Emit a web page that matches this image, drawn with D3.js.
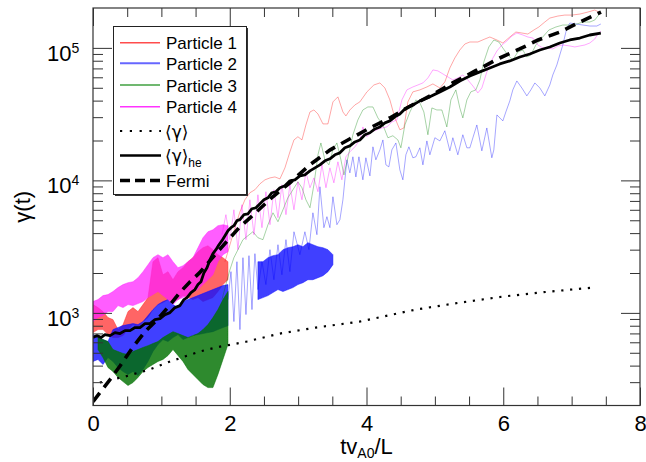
<!DOCTYPE html>
<html><head><meta charset="utf-8">
<script src="https://cdn.jsdelivr.net/npm/d3@7"></script>
<style>
body{margin:0;background:#fff;}
text{font-family:"Liberation Sans",Arial,Helvetica,sans-serif;}
</style>
</head><body>
<svg id="c" width="646" height="462"></svg>
<script>
// ---------------- DATA ----------------
const xTicksMajor = [0, 2, 4, 6, 8];
const xTicksMinor = [0.5, 1, 1.5, 2.5, 3, 3.5, 4.5, 5, 5.5, 6.5, 7, 7.5];
const yTicksMajor = [1e3, 1e4, 1e5];
const yTickExp = ["3", "4", "5"];
const yTicksMinor = [300,400,500,600,700,800,900,2000,3000,4000,5000,6000,7000,8000,9000,20000,30000,40000,50000,60000,70000,80000,90000];
const seriesNames = ["Particle 1", "Particle 2", "Particle 3", "Particle 4"];

// early, rapidly oscillating phase: envelopes
const bandT = [0,0.073,0.146,0.219,0.292,0.366,0.439,0.512,0.585,0.658,0.731,0.804,0.877,0.950,1.023,1.097,1.170,1.243,1.316,1.389,1.462,1.535,1.608,1.681,1.754,1.827,1.901,1.974];
const p1Hi = [1155,1096,1023,922,890,748,816,1023,1096,1023,1155,1304,2434,2610,1940,2048,1780,2048,2193,2434,2610,2898,3104,3214,3000,2750,2610,2434];
const p1Lo = [710,748,748,686,651,651,674,748,816,775,860,922,1059,1155,1196,1260,1217,1260,1350,1304,1260,1304,1217,1260,1304,1449,1635,1780];
const p2Hi = [686,651,629,608,748,775,802,816,830,816,860,954,1059,1155,1217,1260,1155,1096,1217,1260,1304,1350,1399,1449,1500,1552,1607,1635];
const p2Lo = [430,445,408,460,430,387,361,343,361,337,374,430,511,577,629,608,651,686,629,651,674,686,698,710,722,748,775,800];
const p2Band2T = [2.412,2.485,2.559,2.632,2.705,2.778,2.851,2.924,2.997,3.070,3.143,3.216,3.290,3.363,3.436,3.509];
const p2Band2Hi = [2434,2434,2610,2703,2750,3000,3104,3159,3270,3159,3389,3270,3159,3104,3000,2750];
const p2Band2Lo = [1260,1304,1350,1424,1500,1449,1500,1552,1635,1690,1780,1780,1841,1907,2048,2310];
const p3BandT = [0.073,0.146,0.219,0.292,0.366,0.439,0.512,0.585,0.658,0.731,0.804,0.877,0.950,1.023,1.097,1.170,1.243,1.316,1.389,1.462,1.535,1.608,1.681,1.754,1.827,1.901,1.974];
const p3Hi = [651,629,608,529,511,494,485,511,529,548,566,587,608,651,686,722,698,674,651,674,698,748,816,922,1059,1260,1449];
const p3Lo = [529,460,387,361,326,303,283,298,326,361,387,408,430,445,477,529,477,430,374,343,314,288,273,273,343,445,577];
const p4Hi = [1217,1260,1350,1374,1449,1552,1635,1690,1719,1841,2048,2310,2610,2750,2610,2750,2434,2193,2270,2434,2610,3104,3692,4095,4240,4550,4630,4550];
const p4Lo = [860,922,954,1023,1023,1135,1096,1155,1135,1175,1217,1304,1374,1449,1350,1260,1155,1260,1304,1374,1449,1500,1635,1780,1940,2434,2750,2898];

// later phase: individual traces
const p1T = [1.930,2.003,2.076,2.149,2.222,2.295,2.368,2.442,2.515,2.588,2.661,2.734,2.807,2.880,2.939,2.997,3.056,3.114,3.173,3.231,3.290,3.363,3.436,3.509,3.582,3.655,3.699,3.757,3.830,3.903,4.006,4.108,4.196,4.269,4.342,4.415,4.488,4.547,4.605,4.678,4.781,4.883,4.971,5.073,5.146,5.219,5.292,5.365,5.439,5.512,5.629,5.731,5.804,5.907,5.994,6.096,6.184,6.272,6.360,6.447,6.520,6.608,6.681,6.798,6.901,7.003,7.120,7.237,7.339,7.427];
const p1V = [2434,3270,4395,5795,7140,8068,8500,9422,10100,10440,10620,10260,12430,16420,20200,21350,20200,26200,32840,34000,31720,26680,26680,39120,42690,32840,30660,34000,37100,39120,46560,52500,54390,49830,40500,29620,24100,24870,39120,46560,48200,50710,53450,49830,55350,70530,83910,96400,107000,110800,110800,116700,120800,114700,108900,120800,131700,129500,127200,136400,143700,156800,167900,173900,176900,176900,180000,186400,193000,183200];

const p2T = [1.974,2.018,2.061,2.105,2.149,2.193,2.237,2.281,2.325,2.368,2.412,2.471,2.529,2.588,2.646,2.705,2.763,2.822,2.880,2.939,
  3.026,3.099,3.158,3.216,3.275,3.319,3.377,3.421,3.465,3.509,3.567,3.611,3.655,3.713,3.757,3.801,3.845,3.889,3.947,3.991,
  4.050,4.094,4.137,4.196,4.240,4.284,4.327,4.371,4.430,4.488,4.532,4.576,4.620,4.678,4.722,4.781,4.825,4.883,4.927,5.000,
  5.073,5.146,5.219,5.263,5.336,5.409,5.468,5.512,5.556,5.614,5.687,5.760,5.833,5.862,5.907,5.994,6.038,6.096,6.140,6.199,
  6.272,6.345,6.404,6.462,6.535,6.608,6.681,6.725,6.784,6.827,6.871,6.930,6.974,7.062,7.164,7.266,7.368,7.427];
const p2V = [1260,2048,860,2434,748,2610,971,2703,1059,2799,1500,2434,1635,3000,1780,3270,1940,3570,2048,4095,
  2750,4095,3000,5695,3890,8954,4395,5322,4395,7524,4630,5050,7140,14300,11390,15070,10620,15070,10100,14810,
  10810,17920,14300,17000,20200,13100,12650,17000,19170,12000,10100,15600,17920,14810,15070,17610,13100,19850,15600,20980,
  19850,23690,16710,20980,15600,22100,17610,17610,20980,26200,16710,24870,14810,17000,31200,28110,32840,39800,48200,56310,
  49830,43440,48200,54390,49830,43440,52500,62500,74300,88400,105200,141200,154100,151400,148800,146200,146200,151400];

const p3T = [1.886,1.944,2.003,2.061,2.120,2.193,2.266,2.339,2.412,2.485,2.559,2.632,2.705,2.778,2.851,2.924,2.997,3.056,3.114,3.173,
  3.231,3.290,3.333,3.392,3.450,3.509,3.567,3.626,3.670,3.728,3.801,3.874,3.947,4.020,4.094,4.167,4.240,4.313,4.386,4.459,
  4.503,4.561,4.635,4.722,4.781,4.839,4.898,4.956,5.029,5.102,5.175,5.234,5.307,5.365,5.409,5.468,5.526,5.599,5.658,5.716,
  5.789,5.862,5.936,5.994,6.067,6.140,6.213,6.287,6.345,6.404,6.477,6.564,6.667,6.769,6.871,6.974,7.076,7.164,7.266,7.339,7.383,7.427];
const p3V = [1260,1635,2120,2610,3000,3570,3823,4095,3692,3570,4630,5695,4878,6000,7394,8500,9756,8799,7140,6217,
  9270,15600,19170,14300,13100,17000,19170,14300,11000,14810,22100,28600,34000,35830,35830,29620,26200,20980,21720,20200,
  17610,26200,32840,40500,38440,32840,22100,35220,34000,34000,25310,40500,48200,35220,29620,40500,46560,48200,57300,78330,
  101600,114700,110800,99850,88400,81100,93110,96400,85390,88400,105200,118700,136400,143700,148800,148800,151400,156800,156800,162300,173900,186400];

const p4T = [1.886,1.944,2.003,2.061,2.120,2.178,2.237,2.295,2.354,2.412,2.471,2.529,2.588,2.646,2.705,2.763,2.822,2.880,2.939,2.997,
  3.056,3.114,3.173,3.231,3.290,3.348,3.407,3.465,3.523,3.582,3.640,3.699,3.757,3.830,3.903,3.947,4.006,4.079,4.152,4.225,
  4.298,4.371,4.444,4.518,4.591,4.678,4.752,4.825,4.898,4.971,5.044,5.117,5.190,5.263,5.336,5.409,5.482,5.556,5.629,5.687,
  5.760,5.833,5.907,5.980,6.053,6.126,6.199,6.287,6.360,6.433,6.506,6.579,6.652,6.725,6.798,6.871,6.974,7.047,7.120,7.193,7.266,7.339,7.383,7.427];
const p4V = [3890,5510,3570,6000,3000,6550,3570,7140,3890,7790,4395,8210,4630,8500,5230,9270,5510,9270,6000,9756,
  7140,11590,8799,10440,8210,13100,8799,12430,9587,13810,10100,15070,16420,17920,20200,25310,21350,23280,24100,24870,
  25310,27620,28600,40500,48200,50710,52500,54390,59330,68200,67030,63620,60370,57300,59330,62500,57300,51600,45750,49830,
  65870,81100,94740,105200,112700,122900,129500,125100,120800,118700,105200,99850,99850,98140,103400,105200,103400,101600,103400,105200,108900,116700,127200,134100];

// averages and Fermi model
const meanT = [0.10,0.47,0.83,1.13,1.56,1.86,2.03,2.25,2.73,3.26,3.90,4.72,5.37,5.99,6.68,7.31];
const meanV = [298,331,374,430,511,557,577,608,698,775,860,1059,1196,1327,1449,1552];
const heT = [0,0.058,0.117,0.175,0.249,0.322,0.395,0.468,0.541,0.614,0.687,0.760,0.833,0.906,0.980,1.053,1.126,1.199,1.272,1.330,
  1.374,1.433,1.491,1.535,1.579,1.623,1.667,1.711,1.754,1.798,1.842,1.886,1.930,1.974,2.018,2.061,2.105,2.149,2.208,2.266,
  2.325,2.383,2.442,2.500,2.559,2.617,2.675,2.734,2.807,2.880,2.953,3.026,3.099,3.173,3.246,3.319,3.392,3.465,3.538,3.611,
  3.684,3.757,3.830,3.903,3.977,4.050,4.123,4.196,4.269,4.342,4.415,4.488,4.561,4.635,4.708,4.781,4.927,5.073,5.219,5.365,
  5.512,5.658,5.804,5.950,6.096,6.243,6.389,6.535,6.681,6.827,6.974,7.120,7.266,7.427];
const heV = [651,674,651,686,674,710,698,735,735,775,775,830,830,890,906,971,1005,1096,1135,1260,
  1304,1424,1500,1635,1719,2012,2193,2520,2799,3000,3270,3509,3823,4167,4395,4550,4963,5050,5510,5597,
  6110,6217,6661,7140,7394,8068,8210,8799,9110,9926,10100,10810,11000,11790,12430,13100,14050,14550,15600,16140,
  17610,18230,19510,20200,22100,22880,24440,25310,27150,28110,30140,31720,34610,36460,37780,39800,42690,46560,50710,56310,
  61430,65870,70530,75660,79710,85390,89930,96400,101600,108900,114700,118700,125100,129500];
const fermiT = [0,0.25,0.40,0.59,0.76,0.94,1.13,1.27,1.42,1.56,1.81,2.15,2.30,2.44,2.63,2.88,3.17,3.47,3.76,4.05,4.34,4.59,4.93,5.26,5.59,5.95,6.24,6.51,6.83,7.12,7.43];
const fermiV = [214,314,401,557,722,890,1155,1424,1719,2012,2848,4472,5230,6110,7524,9587,13100,17000,20600,24900,29600,35200,43400,54400,67000,83900,98100,114700,131800,156800,186400];

// ---------------- CHART ----------------
const L = 93, R = 640, T = 8, B = 405.5;
const x = d3.scaleLinear().domain([0, 8]).range([L, R]);
const y = d3.scaleLog().domain([200, 2e5]).range([B, T]);
const svg = d3.select("#c");
const FONT = '"Liberation Sans",Arial,Helvetica,sans-serif';

svg.append("clipPath").attr("id", "clip").append("rect")
  .attr("x", L).attr("y", T).attr("width", R - L).attr("height", B - T);
const plot = svg.append("g").attr("clip-path", "url(#clip)");

const zip = (t, v) => t.map((d, i) => ({t: d, v: v[i]}));
const zipBand = (t, lo, hi) => t.map((d, i) => ({t: d, lo: lo[i], hi: hi[i]}));
const line = d3.line().x(d => x(d.t)).y(d => y(d.v));
const area = d3.area().x(d => x(d.t)).y0(d => y(d.lo)).y1(d => y(d.hi));

function band(data, color, op) {
  plot.append("path").datum(data).attr("d", area)
    .attr("fill", color).attr("fill-opacity", op)
    .attr("stroke", color).attr("stroke-opacity", op * 0.6).attr("stroke-width", 1);
}
function trace(data, color, op) {
  plot.append("path").datum(data).attr("d", line)
    .attr("fill", "none").attr("stroke", color).attr("stroke-opacity", op).attr("stroke-width", 1);
}

// Particle 1
band(zipBand(bandT, p1Lo, p1Hi), "#ff2a2a", 0.72);
trace(zip(p1T, p1V), "#ff0000", 0.35);
// Particle 2
band(zipBand(bandT, p2Lo, p2Hi), "#1010ff", 0.8);
band(zipBand(p2Band2T, p2Band2Lo, p2Band2Hi), "#1010ff", 0.8);
trace(zip(p2T, p2V), "#0000ff", 0.35);
// Particle 3
band(zipBand(p3BandT, p3Lo, p3Hi), "#007000", 0.82);
trace(zip(p3T, p3V), "#008000", 0.35);
// Particle 4
band(zipBand(bandT, p4Lo, p4Hi), "#ff1eff", 0.72);
trace(zip(p4T, p4V), "#ff00ff", 0.35);

// averages
plot.append("path").datum(zip(meanT, meanV)).attr("d", line)
  .attr("fill", "none").attr("stroke", "#000").attr("stroke-width", 2.2)
  .attr("stroke-dasharray", "2.2,6.7");
plot.append("path").datum(zip(heT, heV)).attr("d", line)
  .attr("fill", "none").attr("stroke", "#000").attr("stroke-width", 2.8)
  .attr("stroke-linejoin", "round");
plot.append("path").datum(zip(fermiT, fermiV)).attr("d", line)
  .attr("fill", "none").attr("stroke", "#000").attr("stroke-width", 3.6)
  .attr("stroke-dasharray", "11,7");

// ---------------- AXES ----------------
function styleAxis(g) {
  g.select(".domain").remove();
  g.selectAll(".tick line").attr("stroke", "#333").attr("stroke-width", 1);
  g.attr("font-family", FONT);
}
svg.append("g").attr("transform", `translate(0,${B})`)
  .call(d3.axisBottom(x).tickValues(xTicksMajor).tickSize(-18).tickPadding(10).tickFormat(d3.format("d")))
  .call(styleAxis)
  .call(g => g.attr("font-size", 22).selectAll("text").attr("fill", "#000"));
svg.append("g").attr("transform", `translate(0,${B})`)
  .call(d3.axisBottom(x).tickValues(xTicksMinor).tickSize(-9).tickFormat(""))
  .call(styleAxis);
svg.append("g").attr("transform", `translate(0,${T})`)
  .call(d3.axisTop(x).tickValues(xTicksMajor).tickSize(-18).tickFormat(""))
  .call(styleAxis);
svg.append("g").attr("transform", `translate(0,${T})`)
  .call(d3.axisTop(x).tickValues(xTicksMinor).tickSize(-9).tickFormat(""))
  .call(styleAxis);
svg.append("g").attr("transform", `translate(${L},0)`)
  .call(d3.axisLeft(y).tickValues(yTicksMajor).tickSize(-19).tickFormat(""))
  .call(styleAxis);
svg.append("g").attr("transform", `translate(${L},0)`)
  .call(d3.axisLeft(y).tickValues(yTicksMinor).tickSize(-10).tickFormat(""))
  .call(styleAxis);
svg.append("g").attr("transform", `translate(${R},0)`)
  .call(d3.axisRight(y).tickValues(yTicksMajor).tickSize(-19).tickFormat(""))
  .call(styleAxis);
svg.append("g").attr("transform", `translate(${R},0)`)
  .call(d3.axisRight(y).tickValues(yTicksMinor).tickSize(-10).tickFormat(""))
  .call(styleAxis);

// y tick labels 10^k
yTicksMajor.forEach((v, i) => {
  const t = svg.append("text").attr("x", 47).attr("y", y(v) + 13)
    .attr("font-size", 22).attr("fill", "#000");
  t.append("tspan").text("10");
  t.append("tspan").attr("font-size", 14).attr("dy", -8).text(yTickExp[i]);
});

// frame
svg.append("rect").attr("x", L).attr("y", T).attr("width", R - L).attr("height", B - T)
  .attr("fill", "none").attr("stroke", "#333").attr("stroke-width", 1.2);

// axis titles
const xt = svg.append("text").attr("x", (L + R) / 2).attr("y", 454)
  .attr("text-anchor", "middle").attr("font-size", 22).attr("fill", "#000");
xt.append("tspan").text("tv");
xt.append("tspan").attr("font-size", 14).attr("dy", 4).text("A0");
xt.append("tspan").attr("dy", -4).text("/L");

svg.append("text").attr("transform", `translate(30,${(T + B) / 2}) rotate(-90)`)
  .attr("text-anchor", "middle").attr("font-size", 22).attr("fill", "#000")
  .text("γ(t)");

// ---------------- LEGEND ----------------
const lg = svg.append("g");
lg.append("rect").attr("x", 115).attr("y", 28).attr("width", 133).attr("height", 168).attr("fill", "#333");
lg.append("rect").attr("x", 113.5).attr("y", 26.5).attr("width", 133).attr("height", 168)
  .attr("fill", "#fff").attr("stroke", "#222").attr("stroke-width", 1);
const legendRows = [
  {name: seriesNames[0], y: 42.7, color: "#ff0000", w: 1.4, op: 0.7},
  {name: seriesNames[1], y: 63.3, color: "#0000ff", w: 2, op: 0.6},
  {name: seriesNames[2], y: 85, color: "#008000", w: 1.4, op: 0.75},
  {name: seriesNames[3], y: 106.7, color: "#ff00ff", w: 1.4, op: 0.8}
];
legendRows.forEach(r => {
  lg.append("line").attr("x1", 120).attr("x2", 160).attr("y1", r.y).attr("y2", r.y)
    .attr("stroke", r.color).attr("stroke-opacity", r.op).attr("stroke-width", r.w);
  lg.append("text").attr("x", 166).attr("y", r.y + 6.5).attr("font-size", 17).text(r.name);
});
lg.append("line").attr("x1", 120).attr("x2", 161).attr("y1", 131).attr("y2", 131)
  .attr("stroke", "#000").attr("stroke-width", 2.2).attr("stroke-dasharray", "2.2,7.6");
lg.append("text").attr("x", 165).attr("y", 137.5).attr("font-size", 17)
  .style("font-family", '"DejaVu Sans","Liberation Sans",sans-serif').text("⟨γ⟩");
lg.append("line").attr("x1", 120).attr("x2", 161).attr("y1", 155.5).attr("y2", 155.5)
  .attr("stroke", "#000").attr("stroke-width", 2.6);
const he = lg.append("text").attr("x", 165).attr("y", 162).attr("font-size", 17);
he.append("tspan").style("font-family", '"DejaVu Sans","Liberation Sans",sans-serif').text("⟨γ⟩");
he.append("tspan").attr("font-size", 12).attr("dy", 5).text("he");
lg.append("line").attr("x1", 120).attr("x2", 162).attr("y1", 180.5).attr("y2", 180.5)
  .attr("stroke", "#000").attr("stroke-width", 3.6).attr("stroke-dasharray", "10,5");
lg.append("text").attr("x", 166).attr("y", 186.7).attr("font-size", 17).text("Fermi");
</script>
</body></html>
